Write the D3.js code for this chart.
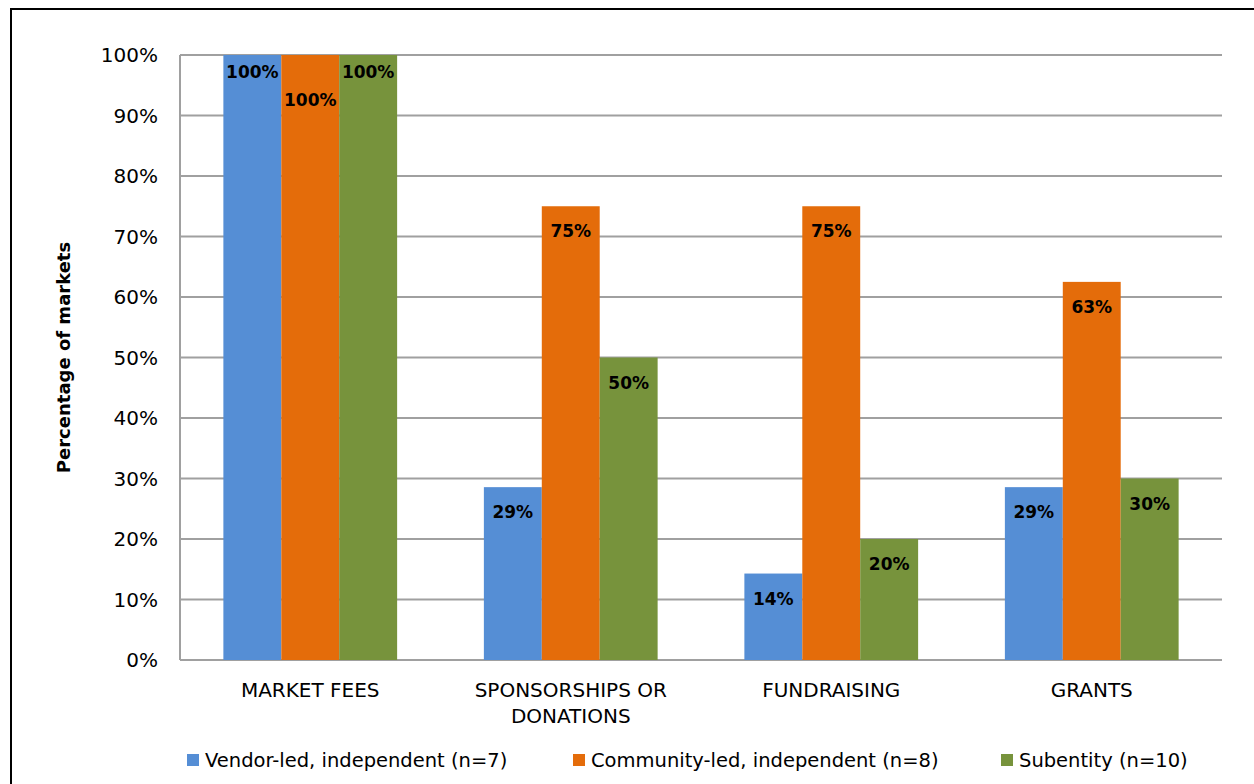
<!DOCTYPE html>
<html>
<head>
<meta charset="utf-8">
<script src="https://cdn.jsdelivr.net/npm/d3@7.9.0/dist/d3.min.js"></script>
<style>
  body { margin: 0; background: #fff; }
  svg { display: block; font-family: "DejaVu Sans", sans-serif; }
</style>
</head>
<body>
<div id="chart"></div>
<script>
// Data
const categories = [['MARKET FEES'], ['SPONSORSHIPS OR', 'DONATIONS'], ['FUNDRAISING'], ['GRANTS']];
const seriesNames = ['Vendor-led, independent (n=7)', 'Community-led, independent (n=8)', 'Subentity (n=10)'];
const vendorLed = [100, 28.57, 14.29, 28.57];
const communityLed = [100, 75, 75, 62.5];
const subentity = [100, 50, 20, 30];
const seriesColors = ['#558ed5', '#e46c0a', '#77933c'];
const yTicks = [0, 10, 20, 30, 40, 50, 60, 70, 80, 90, 100];

const seriesValues = [vendorLed, communityLed, subentity];

const width = 1254, height = 784;
const margin = { top: 55, right: 32, bottom: 124, left: 180 };

const svg = d3.select('#chart').append('svg')
  .attr('width', width).attr('height', height);

// outer frame
svg.append('rect')
  .attr('x', 11).attr('y', 9)
  .attr('width', width + 20).attr('height', height + 20)
  .attr('fill', 'none').attr('stroke', '#000').attr('stroke-width', 2);

const x0 = d3.scaleBand()
  .domain(d3.range(categories.length))
  .range([margin.left, width - margin.right])
  .paddingInner(0.333).paddingOuter(0.1665);

const x1 = d3.scaleBand()
  .domain(d3.range(seriesNames.length))
  .range([0, x0.bandwidth()]);

const y = d3.scaleLinear().domain([0, 100]).range([height - margin.bottom, margin.top]);

// gridlines
svg.append('g')
  .selectAll('line').data(yTicks).join('line')
  .attr('x1', margin.left).attr('x2', width - margin.right)
  .attr('y1', d => y(d)).attr('y2', d => y(d))
  .attr('stroke', '#a0a0a0').attr('stroke-width', 2);

// left axis line
svg.append('line')
  .attr('x1', margin.left).attr('x2', margin.left)
  .attr('y1', y(0)).attr('y2', y(100))
  .attr('stroke', '#a0a0a0').attr('stroke-width', 2);

// y tick labels
svg.append('g')
  .selectAll('text').data(yTicks).join('text')
  .attr('x', 158).attr('y', d => y(d))
  .attr('dy', '0.36em')
  .attr('text-anchor', 'end')
  .attr('font-size', 20).attr('fill', '#000')
  .text(d => d + '%');

// y title
svg.append('text')
  .attr('transform', `translate(70, ${(y(0) + y(100)) / 2}) rotate(-90)`)
  .attr('text-anchor', 'middle')
  .attr('font-size', 18).attr('font-weight', 'bold')
  .text('Percentage of markets');

// bars
const groups = svg.append('g').selectAll('g')
  .data(categories).join('g')
  .attr('transform', (d, i) => `translate(${x0(i)},0)`);

groups.selectAll('rect')
  .data((d, i) => seriesValues.map((s, j) => ({ s: j, v: s[i] })))
  .join('rect')
  .attr('x', d => x1(d.s))
  .attr('width', x1.bandwidth())
  .attr('y', d => y(d.v))
  .attr('height', d => y(0) - y(d.v))
  .attr('fill', d => seriesColors[d.s]);

// data labels (inside end)
groups.selectAll('text.lbl')
  .data((d, i) => seriesValues.map((s, j) => ({
    s: j, v: s[i],
    // nudge middle label down when all three bars are the same height
    clash: j === 1 && s[i] === seriesValues[0][i] && s[i] === seriesValues[2][i]
  })))
  .join('text').attr('class', 'lbl')
  .attr('x', d => x1(d.s) + x1.bandwidth() / 2)
  .attr('y', d => y(d.v) + (d.clash ? 45 : d.v >= 100 ? 17 : 25))
  .attr('dy', '0.36em')
  .attr('text-anchor', 'middle')
  .attr('font-size', 17).attr('font-weight', 'bold')
  .text(d => Math.round(d.v) + '%');

// category labels
const catLabels = svg.append('g').selectAll('text')
  .data(categories).join('text')
  .attr('x', (d, i) => x0(i) + x0.bandwidth() / 2)
  .attr('y', 697)
  .attr('text-anchor', 'middle')
  .attr('font-size', 20);
catLabels.selectAll('tspan')
  .data(d => d).join('tspan')
  .attr('x', function () { return this.parentNode.getAttribute('x'); })
  .attr('dy', (d, i) => i === 0 ? 0 : 26)
  .text(d => d);

// legend
const legendX = [187, 573, 1001];
const legend = svg.append('g').selectAll('g')
  .data(seriesNames).join('g')
  .attr('transform', (d, i) => `translate(${legendX[i]}, 760)`);
legend.append('rect')
  .attr('x', 0).attr('y', -6).attr('width', 12).attr('height', 12)
  .attr('fill', (d, i) => seriesColors[i]);
legend.append('text')
  .attr('x', 18).attr('dy', '0.36em')
  .attr('font-size', 19.5)
  .text(d => d);
</script>
</body>
</html>
